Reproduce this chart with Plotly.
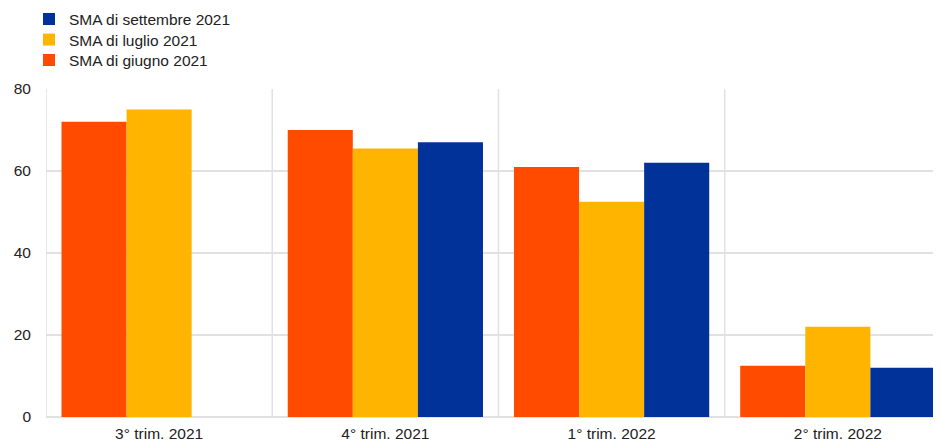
import plotly.graph_objects as go

categories = ["3° trim. 2021", "4° trim. 2021", "1° trim. 2022", "2° trim. 2022"]
giugno = [72, 70, 61, 12.5]
luglio = [75, 65.5, 52.5, 22]
settembre = [None, 67, 62, 12]

series = [
    ("SMA di giugno 2021", giugno, "#ff4b00", "legend3", 52.5),
    ("SMA di luglio 2021", luglio, "#ffb400", "legend2", 32),
    ("SMA di settembre 2021", settembre, "#003299", "legend", 11.5),
]

# page has an 8px body margin, so the figure is slightly smaller
W, H = 933, 436
fig = go.Figure()
legends = {}
for name, vals, col, leg, ypix in series:
    fig.add_trace(go.Bar(x=list(range(len(categories))), y=vals, name=name,
                         legend=leg,
                         marker=dict(color=col, line=dict(width=0))))
    legends[leg] = dict(xref="container", yref="container",
                        x=21 / W, y=1 - ypix / H, xanchor="left", yanchor="middle",
                        font=dict(size=15.5), bgcolor="rgba(0,0,0,0)",
                        borderwidth=0)

grid = "#e1e1e1"
for i in range(len(categories) + 1):
    fig.add_shape(type="line", xref="x", yref="y", x0=i - 0.5, x1=i - 0.5,
                  y0=0, y1=80, line=dict(color=grid, width=1.5), layer="below")

fig.update_layout(
    width=W, height=H,
    margin=dict(l=38, r=0, t=81, b=27, autoexpand=False),
    paper_bgcolor="white", plot_bgcolor="white",
    font=dict(family="Liberation Sans, Arial, sans-serif", size=15.5, color="#222"),
    barmode="group", bargap=0.137, bargroupgap=0,
    showlegend=True,
    xaxis=dict(tickmode="array", tickvals=list(range(len(categories))),
               ticktext=categories, range=[-0.5, 3.456], showgrid=False,
               zeroline=False, showline=False, ticks="", ticklabelstandoff=5),
    yaxis=dict(range=[0, 80], tickvals=[0, 20, 40, 60, 80], showgrid=True,
               gridcolor=grid, gridwidth=1.5, zeroline=True, zerolinecolor=grid,
               zerolinewidth=1.5, ticks="", ticklabelstandoff=14),
    **legends,
)

fig.write_html("out.html")
